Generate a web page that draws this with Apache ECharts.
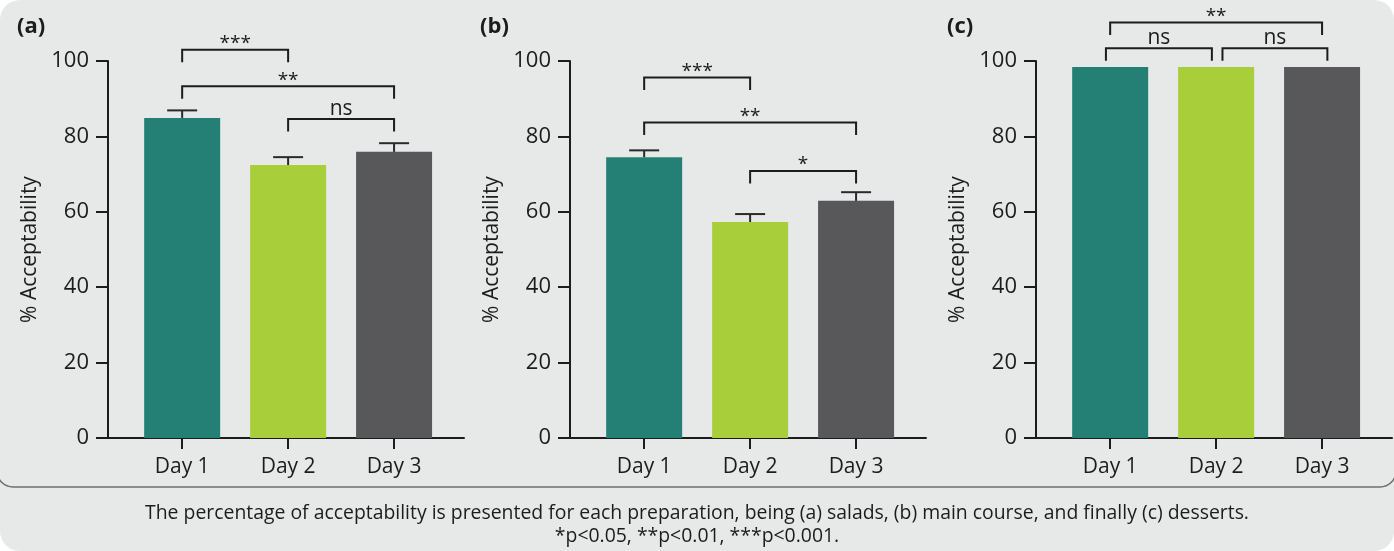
<!DOCTYPE html>
<html><head><meta charset="utf-8">
<script src="https://cdn.jsdelivr.net/npm/echarts@6/dist/echarts.min.js"></script>
<style>html,body{margin:0;padding:0;background:#fff}#c{width:1394px;height:551px}</style>
</head><body><div id="c"></div>
<script>
// ---------- data ----------
const categories = ['Day 1', 'Day 2', 'Day 3'];
const panelLabels = ['(a)', '(b)', '(c)'];
const yTickMin = 0, yTickMax = 100, yTickStep = 20;
const yAxisName = '% Acceptability';

const saladsMean = [84.9, 72.4, 75.9];
const saladsErr  = [2.0, 2.1, 2.3];
const mainMean   = [74.5, 57.3, 62.9];
const mainErr    = [1.8, 2.1, 2.3];
const dessertMean = [98.4, 98.4, 98.4];
const dessertErr  = [0, 0, 0];

// significance brackets: [from category, to category, level (%), label]
const saladsSig  = [[0, 1, 103.0, '***'], [0, 2, 93.3, '**'], [1, 2, 84.6, 'ns']];
const mainSig    = [[0, 1, 95.6, '***'], [0, 2, 83.7, '**'], [1, 2, 70.8, '*']];
const dessertSig = [[-0.04, 0.96, 103.4, 'ns'], [1.06, 2.05, 103.4, 'ns'], [0, 2, 110.2, '**']];

const captionLines = [
  'The percentage of acceptability is presented for each preparation, being (a) salads, (b) main course, and finally (c) desserts.',
  '*p<0.05, **p<0.01, ***p<0.001.'
];

// ---------- styling ----------
const FONT = 'Open Sans';
const barColors = ['#248074', '#a8ce3a', '#58585a'];
const ink = '#1c1c1c';
const panels = [
  {mean: saladsMean, err: saladsErr, sig: saladsSig, left: 108, label: panelLabels[0], labelX: 12},
  {mean: mainMean, err: mainErr, sig: mainSig, left: 570, label: panelLabels[1], labelX: 475},
  {mean: dessertMean, err: dessertErr, sig: dessertSig, left: 1036, label: panelLabels[2], labelX: 942}
];
const LEG = 12.5;

const option = {
  backgroundColor: '#ffffff',
  animation: false,
  textStyle: {fontFamily: FONT},
  title: panels.map(p => ({
    text: p.label, left: p.labelX, top: 11,
    textStyle: {fontFamily: FONT, fontSize: 22, fontWeight: 'bold', color: ink}
  })),
  grid: panels.map(p => ({left: p.left, top: 61, width: 356, height: 377})),
  xAxis: panels.map((p, i) => ({
    type: 'value', gridIndex: i, min: -0.7, max: 2.66,
    splitLine: {show: false},
    axisLine: {show: true, onZero: false, lineStyle: {color: ink, width: 2}},
    axisTick: {show: true, customValues: [0, 1, 2], length: 11, lineStyle: {color: ink, width: 2}},
    axisLabel: {show: true, customValues: [0, 1, 2], margin: 19, fontSize: 21, color: ink, fontFamily: FONT,
      formatter: v => categories[Math.round(v)]}
  })),
  yAxis: panels.map((p, i) => ({
    type: 'value', gridIndex: i, min: yTickMin, max: yTickMax, interval: yTickStep,
    splitLine: {show: false},
    axisLine: {show: true, onZero: false, lineStyle: {color: ink, width: 2}},
    axisTick: {show: true, length: 12, lineStyle: {color: ink, width: 2}},
    axisLabel: {margin: 19, fontSize: 22, color: ink, fontFamily: FONT},
    name: yAxisName, nameLocation: 'middle', nameGap: 67,
    nameTextStyle: {fontSize: 21, color: ink, fontFamily: FONT}
  })),
  series: [],
  graphic: [
    {type: 'rect', z: -100, shape: {x: 0, y: 0, width: 1394, height: 551, r: 20}, style: {fill: '#e6e9e8'}},
    {type: 'rect', z: -99, shape: {x: -3, y: -40, width: 1399, height: 527, r: 16},
      style: {fill: 'none', stroke: '#6e6e6e', lineWidth: 1.5}},
    {type: 'text', z: 10, x: 697, y: 525, style: {
      text: captionLines.join('\n'), align: 'center', verticalAlign: 'middle',
      fontFamily: FONT, fontSize: 19.4, lineHeight: 23, fill: ink}}
  ]
};

panels.forEach((p, i) => {
  option.series.push({
    type: 'bar', xAxisIndex: i, yAxisIndex: i, barWidth: 76, silent: true, z: 2,
    data: p.mean.map((v, j) => ({value: [j, v], itemStyle: {color: barColors[j]}}))
  });
  option.series.push({
    type: 'custom', xAxisIndex: i, yAxisIndex: i, silent: true, z: 3,
    data: p.mean.map((v, j) => [j, v, p.err[j]]),
    encode: {x: 0, y: 1},
    renderItem: (params, api) => {
      const x = api.value(0), y = api.value(1), e = api.value(2);
      if (!e) return null;
      const a = api.coord([x, y]), b = api.coord([x, y + e]);
      const st = {stroke: '#2a2a2a', lineWidth: 2};
      return {type: 'group', children: [
        {type: 'line', shape: {x1: a[0], y1: a[1], x2: b[0], y2: b[1]}, style: st},
        {type: 'line', shape: {x1: b[0] - 15, y1: b[1], x2: b[0] + 15, y2: b[1]}, style: st}
      ]};
    }
  });
  option.series.push({
    type: 'custom', xAxisIndex: i, yAxisIndex: i, silent: true, z: 4, clip: false,
    data: p.sig.map(s => [s[0], s[1], s[2]]),
    encode: {x: [0, 1], y: 2},
    renderItem: (params, api) => {
      const s = p.sig[params.dataIndex];
      const a = api.coord([s[0], s[2]]), b = api.coord([s[1], s[2]]);
      const isStar = s[3].indexOf('*') >= 0;
      return {type: 'group', children: [
        {type: 'polyline', shape: {points: [[a[0], a[1] + LEG], [a[0], a[1]], [b[0], b[1]], [b[0], b[1] + LEG]]},
          style: {stroke: ink, lineWidth: 2, fill: 'none'}},
        {type: 'text', x: (a[0] + b[0]) / 2, y: a[1] - (isStar ? 6 : 10),
          style: {text: s[3], align: 'center', verticalAlign: 'middle',
            fontFamily: FONT, fontSize: isStar ? 19 : 21, fill: ink}}
      ]};
    }
  });
});

const chart = echarts.init(document.getElementById('c'), null, {renderer: 'canvas'});
chart.setOption(option);
</script>
</body></html>
